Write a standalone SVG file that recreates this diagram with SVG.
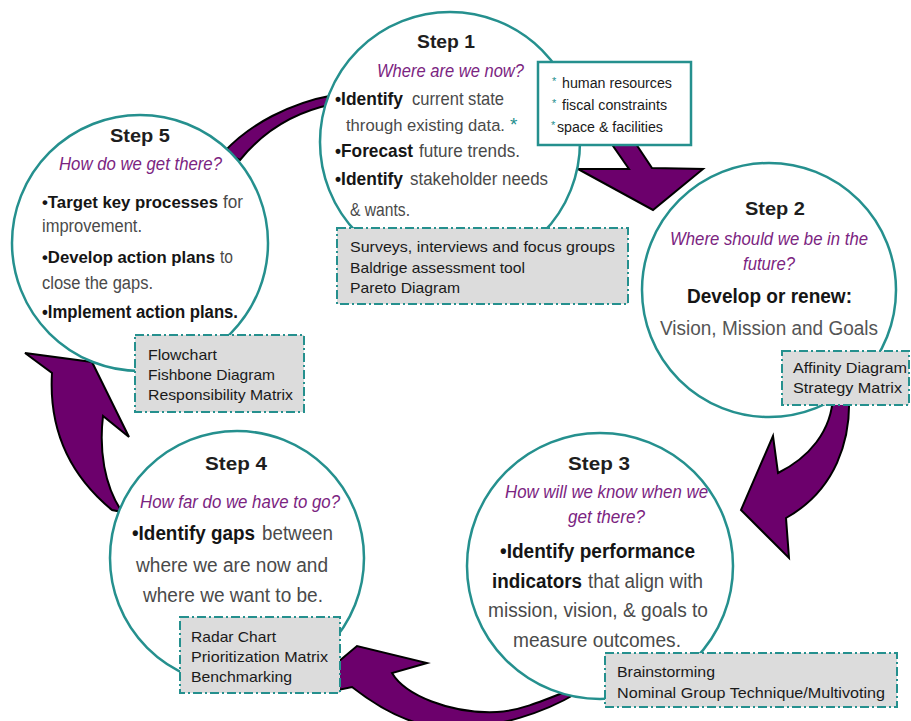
<svg xmlns="http://www.w3.org/2000/svg" width="911" height="721" viewBox="0 0 911 721">
<style>
text{font-family:"Liberation Sans",Arial,sans-serif}
.h{font-size:19px;font-weight:bold;fill:#1e1e1e}
.q{font-size:18px;font-style:italic;fill:#7b2481}
.b{font-size:19px;fill:#4a4a4a}
.b20{font-size:20px;fill:#4a4a4a}
.b18{font-size:18px;fill:#4a4a4a}
.k{font-weight:bold;fill:#151515}
.bx{font-size:15px;fill:#1a1a1a}
.sm{font-size:14px;fill:#1a1a1a}
.ast{fill:#25908e}
.ring{fill:#fff;stroke:#25908e;stroke-width:2.5}
.tool{fill:#dcdcdc;stroke:#25908e;stroke-width:2;stroke-dasharray:9 3 2 3}
.note{fill:#fff;stroke:#25908e;stroke-width:2.5}
.arrow{fill:#6c006c;stroke:#000;stroke-width:2;stroke-linejoin:miter}
</style>
<rect width="911" height="721" fill="#fff"/>
<g id="connectors">
<path class="arrow" d="M224,152 C250,124 290,103 334,95 L334,104 C298,111 266,128 240,160 Z"/>
<path class="arrow" d="M595,120 L620,120 L652,168 L703,169 L653,210 L578,169 L629,169 Z"/>
<path class="arrow" d="M833,395 L849,395 C851,440 836,490 786,518 L789,558 L741,510 L773,436 L778,473 C808,458 832,432 833,395 Z"/>
<path class="arrow" d="M338,662 L357,646 L427,663 L392,673 C405,695 450,714 497,712 C520,711 545,700 575,688 L577,693 C545,712 500,728 450,728 C410,728 375,705 352,687 L338,690 Z"/>
<path class="arrow" d="M25,353 L92,362 L129,437 L103,416 C99,450 104,485 122,512 L112,510 C78,482 48,440 52,373 Z"/>
</g>
<g id="step1">
<circle class="ring" cx="450" cy="142" r="130"/>
<text class="h" x="417" y="48" textLength="58" lengthAdjust="spacingAndGlyphs">Step 1</text>
<text class="q" x="377" y="77" textLength="147" lengthAdjust="spacingAndGlyphs">Where are we now?</text>
<text class="b k" x="335" y="105" textLength="68" lengthAdjust="spacingAndGlyphs">•Identify</text>
<text class="b" x="412" y="105" textLength="92" lengthAdjust="spacingAndGlyphs">current state</text>
<text class="b" x="346" y="131" textLength="159" lengthAdjust="spacingAndGlyphs" style="font-size:16.9px">through existing data.</text>
<text class="b ast" x="510" y="131">*</text>
<text class="b k" x="335" y="157" textLength="78" lengthAdjust="spacingAndGlyphs" style="font-size:18.5px">•Forecast</text>
<text class="b" x="419" y="157" textLength="101" lengthAdjust="spacingAndGlyphs">future trends.</text>
<text class="b k" x="335" y="185" textLength="68" lengthAdjust="spacingAndGlyphs">•Identify</text>
<text class="b" x="410" y="185" textLength="138" lengthAdjust="spacingAndGlyphs">stakeholder needs</text>
<text class="b" x="350" y="216" textLength="60" lengthAdjust="spacingAndGlyphs">&amp; wants.</text>
<rect class="note" x="538" y="62" width="153" height="83"/>
<text class="sm ast" x="552" y="85" style="font-size:11px">*</text>
<text class="sm" x="562" y="88" textLength="110" lengthAdjust="spacingAndGlyphs">human resources</text>
<text class="sm ast" x="552" y="107" style="font-size:11px">*</text>
<text class="sm" x="562" y="110" textLength="105" lengthAdjust="spacingAndGlyphs">fiscal constraints</text>
<text class="sm ast" x="551" y="129" style="font-size:11px">*</text>
<text class="sm" x="557" y="132" textLength="106" lengthAdjust="spacingAndGlyphs">space &amp; facilities</text>
<rect class="tool" x="337" y="228" width="291" height="76"/>
<text class="bx" x="350" y="252" textLength="265" lengthAdjust="spacingAndGlyphs">Surveys, interviews and focus groups</text>
<text class="bx" x="350" y="273" textLength="175" lengthAdjust="spacingAndGlyphs">Baldrige assessment tool</text>
<text class="bx" x="350" y="293" textLength="110" lengthAdjust="spacingAndGlyphs">Pareto Diagram</text>
</g>
<g id="step2">
<circle class="ring" cx="769" cy="290" r="127"/>
<text class="h" x="745" y="215" textLength="60" lengthAdjust="spacingAndGlyphs">Step 2</text>
<text class="q" x="670" y="245" textLength="198" lengthAdjust="spacingAndGlyphs">Where should we be in the</text>
<text class="q" x="743" y="270" textLength="52" lengthAdjust="spacingAndGlyphs">future?</text>
<text class="b20 k" x="687" y="303" textLength="165" lengthAdjust="spacingAndGlyphs">Develop or renew:</text>
<text class="b20" x="660" y="335" textLength="218" lengthAdjust="spacingAndGlyphs" style="fill:#555">Vision, Mission and Goals</text>
<rect class="tool" x="782" y="351" width="127" height="54"/>
<text class="bx" x="793" y="373" textLength="114" lengthAdjust="spacingAndGlyphs">Affinity Diagram</text>
<text class="bx" x="793" y="393" textLength="109" lengthAdjust="spacingAndGlyphs">Strategy Matrix</text>
</g>
<g id="step3">
<circle class="ring" cx="600" cy="566" r="133"/>
<text class="h" x="568" y="470" textLength="62" lengthAdjust="spacingAndGlyphs">Step 3</text>
<text class="q" x="505" y="498" textLength="203" lengthAdjust="spacingAndGlyphs">How will we know when we</text>
<text class="q" x="568" y="523" textLength="77" lengthAdjust="spacingAndGlyphs">get there?</text>
<text class="b20 k" x="500" y="558" textLength="195" lengthAdjust="spacingAndGlyphs">•Identify performance</text>
<text class="b20 k" x="492" y="588" textLength="90" lengthAdjust="spacingAndGlyphs">indicators</text>
<text class="b20" x="588" y="588" textLength="115" lengthAdjust="spacingAndGlyphs">that align with</text>
<text class="b20" x="488" y="617" textLength="220" lengthAdjust="spacingAndGlyphs">mission, vision, &amp; goals to</text>
<text class="b20" x="513" y="647" textLength="168" lengthAdjust="spacingAndGlyphs">measure outcomes.</text>
<rect class="tool" x="605" y="653" width="292" height="54"/>
<text class="bx" x="617" y="677" textLength="98" lengthAdjust="spacingAndGlyphs">Brainstorming</text>
<text class="bx" x="617" y="698" textLength="268" lengthAdjust="spacingAndGlyphs">Nominal Group Technique/Multivoting</text>
</g>
<g id="step4">
<circle class="ring" cx="237" cy="558" r="127"/>
<text class="h" x="205" y="470" textLength="62" lengthAdjust="spacingAndGlyphs">Step 4</text>
<text class="q" x="140" y="508" textLength="200" lengthAdjust="spacingAndGlyphs">How far do we have to go?</text>
<text class="b20 k" x="132" y="540" textLength="123" lengthAdjust="spacingAndGlyphs" style="font-size:19.6px">•Identify gaps</text>
<text class="b20" x="262" y="540" textLength="71" lengthAdjust="spacingAndGlyphs">between</text>
<text class="b20" x="136" y="572" textLength="192" lengthAdjust="spacingAndGlyphs">where we are now and</text>
<text class="b20" x="143" y="602" textLength="180" lengthAdjust="spacingAndGlyphs">where we want to be.</text>
<rect class="tool" x="180" y="617" width="160" height="76"/>
<text class="bx" x="191" y="642" textLength="85" lengthAdjust="spacingAndGlyphs">Radar Chart</text>
<text class="bx" x="191" y="662" textLength="137" lengthAdjust="spacingAndGlyphs">Prioritization Matrix</text>
<text class="bx" x="191" y="682" textLength="101" lengthAdjust="spacingAndGlyphs">Benchmarking</text>
</g>
<g id="step5">
<circle class="ring" cx="140" cy="243" r="128"/>
<text class="h" x="110" y="142" textLength="60" lengthAdjust="spacingAndGlyphs">Step 5</text>
<text class="q" x="59" y="170" textLength="163" lengthAdjust="spacingAndGlyphs">How do we get there?</text>
<text class="b18 k" x="42" y="208" textLength="176" lengthAdjust="spacingAndGlyphs" style="font-size:16.6px">•Target key processes</text>
<text class="b18" x="223" y="208" textLength="20" lengthAdjust="spacingAndGlyphs">for</text>
<text class="b18" x="42" y="232" textLength="100" lengthAdjust="spacingAndGlyphs">improvement.</text>
<text class="b18 k" x="42" y="263" textLength="173" lengthAdjust="spacingAndGlyphs" style="font-size:16.8px">•Develop action plans</text>
<text class="b18" x="220" y="263" textLength="13" lengthAdjust="spacingAndGlyphs">to</text>
<text class="b18" x="42" y="289" textLength="111" lengthAdjust="spacingAndGlyphs">close the gaps.</text>
<text class="b18 k" x="42" y="318" textLength="196" lengthAdjust="spacingAndGlyphs">•Implement action plans.</text>
<rect class="tool" x="135" y="335" width="169" height="77"/>
<text class="bx" x="148" y="360" textLength="69" lengthAdjust="spacingAndGlyphs">Flowchart</text>
<text class="bx" x="148" y="380" textLength="127" lengthAdjust="spacingAndGlyphs">Fishbone Diagram</text>
<text class="bx" x="148" y="400" textLength="145" lengthAdjust="spacingAndGlyphs">Responsibility Matrix</text>
</g>
</svg>
